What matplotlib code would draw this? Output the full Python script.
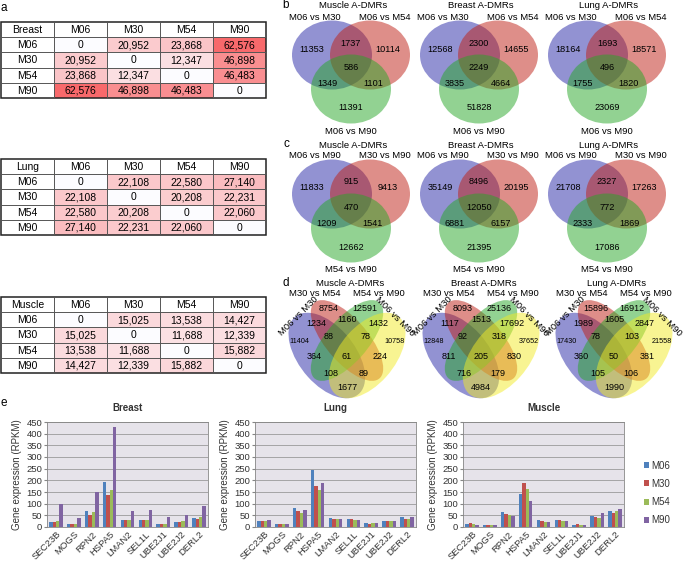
import numpy as np
import matplotlib
matplotlib.use("Agg")
import matplotlib.pyplot as plt
from matplotlib.patches import Ellipse, Rectangle
from matplotlib.colors import LinearSegmentedColormap

plt.rcParams["font.family"] = ["Liberation Sans", "DejaVu Sans"]

W, H = 685, 562

# ---------------- data ----------------
months = ["M06", "M30", "M54", "M90"]

# a: pairwise DMR counts
breast_dist = [[0, 20952, 23868, 62576],
               [20952, 0, 12347, 46898],
               [23868, 12347, 0, 46483],
               [62576, 46898, 46483, 0]]
lung_dist = [[0, 22108, 22580, 27140],
             [22108, 0, 20208, 22231],
             [22580, 20208, 0, 22060],
             [27140, 22231, 22060, 0]]
muscle_dist = [[0, 15025, 13538, 14427],
               [15025, 0, 11688, 12339],
               [13538, 11688, 0, 15882],
               [14427, 12339, 15882, 0]]

venn_tissues = ["Muscle", "Breast", "Lung"]

# b/c: 3-set venn counts [A, AB, B, ABC, AC, BC, C]
sets_b = ["M06 vs M30", "M06 vs M54", "M06 vs M90"]
venn_b_muscle = [11353, 1737, 10114, 586, 1349, 1101, 11391]
venn_b_breast = [12568, 2300, 14655, 2249, 3835, 4664, 51828]
venn_b_lung = [18164, 1693, 18571, 496, 1755, 1820, 23069]

sets_c = ["M06 vs M90", "M30 vs M90", "M54 vs M90"]
venn_c_muscle = [11833, 915, 9413, 470, 1209, 1541, 12662]
venn_c_breast = [35149, 8496, 20195, 12050, 6881, 6157, 21395]
venn_c_lung = [21708, 2327, 17263, 772, 2333, 1869, 17086]

# d: 4-set venn counts, read row by row from top
sets_d = ["M06 vs M30", "M30 vs M54", "M54 vs M90", "M06 vs M90"]
venn_d_muscle = [8754, 12591, 1234, 1160, 1432, 11404, 88, 78, 10758, 364, 61, 224, 108, 89, 1677]
venn_d_breast = [8093, 25136, 1117, 1513, 17692, 12848, 92, 318, 37652, 811, 205, 830, 716, 179, 4984]
venn_d_lung = [15896, 16912, 1989, 1605, 2847, 17430, 78, 103, 21558, 360, 50, 381, 105, 106, 1990]

# e: gene expression (RPKM), rows = months
genes = ["SEC23B", "MOGS", "RPN2", "HSPA5", "LMAN2", "SEL1L", "UBE2J1", "UBE2J2", "DERL2"]
breast_expr = [[22, 12, 70, 195, 32, 32, 14, 22, 37],
               [22, 13, 52, 138, 32, 29, 14, 22, 35],
               [24, 15, 63, 160, 29, 28, 14, 25, 42],
               [100, 40, 150, 430, 67, 75, 42, 50, 90]]
lung_expr = [[27, 13, 80, 245, 40, 34, 16, 24, 43],
             [27, 13, 70, 175, 34, 34, 15, 24, 33],
             [27, 13, 62, 157, 34, 31, 17, 24, 33],
             [30, 13, 75, 190, 34, 31, 19, 27, 43]]
muscle_expr = [[14, 10, 63, 140, 31, 30, 10, 48, 70],
               [16, 10, 57, 188, 26, 30, 13, 44, 61],
               [14, 10, 50, 162, 21, 26, 10, 39, 67],
               [10, 10, 48, 113, 21, 26, 10, 60, 78]]

# ---------------- helpers ----------------
fig = plt.figure(figsize=(W / 100, H / 100), dpi=100)


def px_axes(x, y, w, h):
    ax = fig.add_axes([x / W, 1 - (y + h) / H, w / W, h / H])
    ax.patch.set_alpha(0)
    return ax


def ftext(x, y, s, **kw):
    fig.text(x / W, 1 - y / H, s, **kw)


heat = LinearSegmentedColormap.from_list("heat", ["#fcfcff", "#f8696b"])
vmax = max(max(r) for r in breast_dist + lung_dist + muscle_dist)


def draw_table(y0, name, dist):
    ax = px_axes(1, y0, 265, 76)
    ax.set_xlim(0, 5)
    ax.set_ylim(5, 0)
    ax.axis("off")
    for j, h in enumerate([name] + months):
        ax.text(j + 0.5, 0.52, h, ha="center", va="center", fontsize=7.5)
    for i, row in enumerate(dist):
        ax.text(0.5, i + 1.52, months[i], ha="center", va="center", fontsize=7.5)
        for j, v in enumerate(row):
            ax.add_patch(Rectangle((j + 1, i + 1), 1, 1, fc=heat(v / vmax), ec="none"))
            ax.text(j + 1.5, i + 1.52, f"{v:,}", ha="center", va="center", fontsize=7.5)
    for k in range(1, 5):
        ax.plot([0, 5], [k, k], color="#555555", lw=0.7)
        ax.plot([k, k], [0, 5], color="#555555", lw=0.7)
    ax.add_patch(Rectangle((0, 0), 5, 5, fill=False, ec="#222222", lw=1.1, clip_on=False))


draw_table(22, "Breast", breast_dist)
draw_table(159, "Lung", lung_dist)
draw_table(297, "Muscle", muscle_dist)

venn_cols = [(0.15, 0.15, 0.65), (0.75, 0.12, 0.08), (0.15, 0.65, 0.15), (0.95, 0.92, 0.15)]
venn_x = [351, 479, 607]


def draw_venn3(cx, top, title, names, counts):
    ax = px_axes(cx - 70, top, 140, 140)
    ax.set_xlim(-70, 70)
    ax.set_ylim(140, 0)
    ax.axis("off")
    for (dx, dy), col in zip([(-19, 55), (19, 55), (0, 89)], venn_cols):
        ax.add_patch(Ellipse((dx, dy), 80, 69, fc=col, alpha=0.5, ec="none"))
    ax.text(2, 6, title, ha="center", va="center", fontsize=6.8)
    ax.text(-36, 17, names[0], ha="center", va="center", fontsize=6.8)
    ax.text(34, 17, names[1], ha="center", va="center", fontsize=6.8)
    ax.text(0, 131, names[2], ha="center", va="center", fontsize=6.8)
    spots = [(-39, 49), (0, 43), (37, 49), (0, 68), (-24, 84), (22, 84), (0, 108)]
    for (dx, dy), n in zip(spots, counts):
        ax.text(dx, dy, str(n), ha="center", va="center", fontsize=6.6)


for cx, t, cb, cc in zip(venn_x, venn_tissues,
                         [venn_b_muscle, venn_b_breast, venn_b_lung],
                         [venn_c_muscle, venn_c_breast, venn_c_lung]):
    draw_venn3(cx, 0, t + " A-DMRs", sets_b, cb)
    draw_venn3(cx, 139, t + " A-DMRs", sets_c, cc)


def draw_venn4(cx, title, names, counts):
    ax = px_axes(cx - 67.25, 276, 134.5, 150)
    ax.set_xlim(0, 1)
    ax.set_ylim(0, 1)
    ax.axis("off")
    shapes = [((0.35, 0.47), 0.35, 0.20, 135), ((0.5, 0.57), 0.35, 0.15, 135),
              ((0.5, 0.57), 0.35, 0.15, 45), ((0.65, 0.47), 0.35, 0.20, 45)]
    for (xy, a, b, ang), col in zip(shapes, venn_cols):
        ax.add_patch(Ellipse(xy, 2 * a, 2 * b, angle=ang, fc=col, alpha=0.5, ec="none"))
    ax.text(0.52, 0.947, title, ha="center", va="center", fontsize=6.8)
    ax.text(0.26, 0.88, names[1], ha="center", va="center", fontsize=6.8)
    ax.text(0.74, 0.88, names[2], ha="center", va="center", fontsize=6.8)
    ax.text(0.14, 0.733, names[0], ha="center", va="center", fontsize=6.8, rotation=45)
    ax.text(0.86, 0.733, names[3], ha="center", va="center", fontsize=6.8, rotation=-45)
    spots = [(0.366, 0.785), (0.634, 0.785), (0.27, 0.685), (0.5, 0.707), (0.73, 0.685),
             (0.147, 0.562), (0.364, 0.595), (0.636, 0.595), (0.853, 0.562),
             (0.257, 0.462), (0.5, 0.462), (0.743, 0.462),
             (0.377, 0.347), (0.623, 0.347), (0.5, 0.258)]
    for k, ((x, y), n) in enumerate(zip(spots, counts)):
        fs = 5.2 if k in (5, 8) else 6.5
        ax.text(x, y, str(n), ha="center", va="center", fontsize=fs)


for cx, t, cd in zip([347, 481, 614], venn_tissues, [venn_d_muscle, venn_d_breast, venn_d_lung]):
    draw_venn4(cx, t + " A-DMRs", sets_d, cd)

# ---------------- e: bar charts ----------------
bar_cols = ["#4f81bd", "#c0504d", "#9bbb59", "#8064a2"]


def draw_bars(x0, title, expr):
    ax = px_axes(x0, 422, 161, 105)
    ax.patch.set_alpha(1)
    ax.set_facecolor("#e6e3ea")
    x = np.arange(len(genes))
    w = 0.19
    for k, m in enumerate(months):
        ax.bar(x + (k - 1.5) * w, expr[k], w, color=bar_cols[k], label=m, zorder=3)
    ax.set_xlim(-0.5, len(genes) - 0.5)
    ax.set_ylim(0, 450)
    ax.set_yticks(np.arange(0, 451, 50))
    ax.yaxis.grid(True, color="#9a9a9a", lw=0.6)
    ax.set_axisbelow(True)
    ax.set_xticks(x)
    ax.set_xticklabels(genes, rotation=45, ha="right", rotation_mode="anchor", fontsize=6.8, color="#333333")
    ax.tick_params(axis="x", length=0, pad=2)
    ax.tick_params(axis="y", length=2, labelsize=6.8, labelcolor="#333333", pad=1.5, color="#868686")
    for s in ax.spines.values():
        s.set_color("#868686")
        s.set_linewidth(0.6)
    ax.set_ylabel("Gene expression (RPKM)", fontsize=7, color="#333333", labelpad=3)
    ax.set_title(title, fontsize=7, fontweight="bold", color="#333333", pad=8)
    return ax


draw_bars(47, "Breast", breast_expr)
draw_bars(255, "Lung", lung_expr)
axm = draw_bars(463, "Muscle", muscle_expr)
axm.legend(loc="center left", bbox_to_anchor=(635 / W, 1 - 493 / H), bbox_transform=fig.transFigure,
           frameon=False, fontsize=7, handlelength=0.55, handleheight=0.55, handletextpad=0.2,
           labelspacing=0.85, labelcolor="#333333")

# panel labels
for lab, (x, y) in zip("abcde", [(4, 8), (286, 5), (286, 144), (286, 283), (4, 403)]):
    ftext(x, y, lab, fontsize=8.5, ha="center", va="center")

fig.savefig("out.png", dpi=100)
